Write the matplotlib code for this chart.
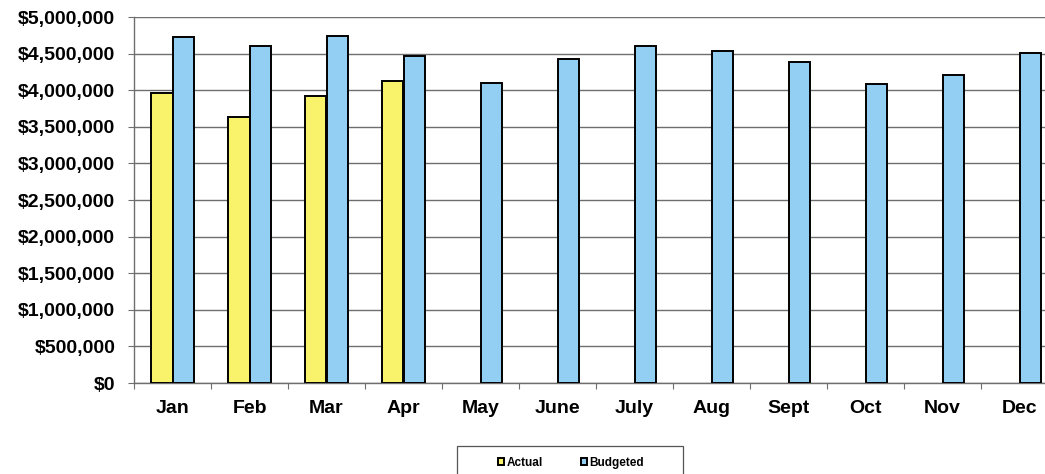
import numpy as np
import matplotlib
matplotlib.use("Agg")
import matplotlib.pyplot as plt
from matplotlib.patches import Rectangle
from matplotlib.ticker import FuncFormatter, MultipleLocator

# monthly figures
months = ["Jan", "Feb", "Mar", "Apr", "May", "June", "July", "Aug", "Sept", "Oct", "Nov", "Dec"]
actual = [3960000, 3640000, 3920000, 4130000]
budgeted = [4730000, 4610000, 4735000, 4470000, 4105000, 4420000,
            4605000, 4540000, 4380000, 4090000, 4210000, 4510000]

actual_color = "#F9F36C"
budget_color = "#93CEF3"
grid_color = "#6E6E6E"

plt.rcParams["font.family"] = ["Liberation Sans", "DejaVu Sans"]
plt.rcParams["font.weight"] = "bold"

fig = plt.figure(figsize=(10.45, 4.74), dpi=100)
# plot area runs a little past the right edge, like the scan
ax = fig.add_axes([134 / 1045, 1 - 383 / 474, 924 / 1045, 366 / 474])

x = np.arange(len(months))
bar_w = 0.285
ax.bar(x[:len(actual)] - bar_w / 2, actual, width=bar_w, color=actual_color,
       edgecolor="black", linewidth=1.4, label="Actual", zorder=3)
ax.bar(x + bar_w / 2, budgeted, width=bar_w, color=budget_color,
       edgecolor="black", linewidth=1.4, label="Budgeted", zorder=3)

ax.set_xlim(-0.5, len(months) - 0.5)
ax.set_ylim(0, 5000000)

# y axis: dollar labels every 500k
ax.yaxis.set_major_locator(MultipleLocator(500000))
ax.yaxis.set_major_formatter(FuncFormatter(lambda v, p: "${:,.0f}".format(v)))
ax.tick_params(axis="y", length=4, width=0.8, color=grid_color, pad=9.5,
               labelsize=14)
ax.grid(axis="y", color=grid_color, linewidth=1.0, zorder=0)

# x axis: labels at centres, tick marks between months
ax.set_xticks(x)
ax.set_xticklabels(months)
ax.set_xticks(np.arange(-0.5, len(months)), minor=True)
ax.tick_params(axis="x", which="major", length=0, pad=12, labelsize=14)
ax.tick_params(axis="x", which="minor", length=4, width=0.8, color=grid_color)

for s in ["top", "right"]:
    ax.spines[s].set_visible(False)
for s in ["left", "bottom"]:
    ax.spines[s].set_color(grid_color)
    ax.spines[s].set_linewidth(1.0)

# legend box hangs off the bottom of the page
fig.patches.append(Rectangle((457 / 1045, -0.05), 226 / 1045, 0.05 + 28 / 474,
                             transform=fig.transFigure, facecolor="white",
                             edgecolor="#555555", linewidth=0.9))
fig.legend(loc="center", bbox_to_anchor=(571 / 1045, 1 - 463 / 474), ncol=2,
           frameon=False, fontsize=8.5, handlelength=0.5, handleheight=0.5,
           handletextpad=0.2, columnspacing=3.2, borderpad=0)

fig.savefig("out.png", dpi=100)
